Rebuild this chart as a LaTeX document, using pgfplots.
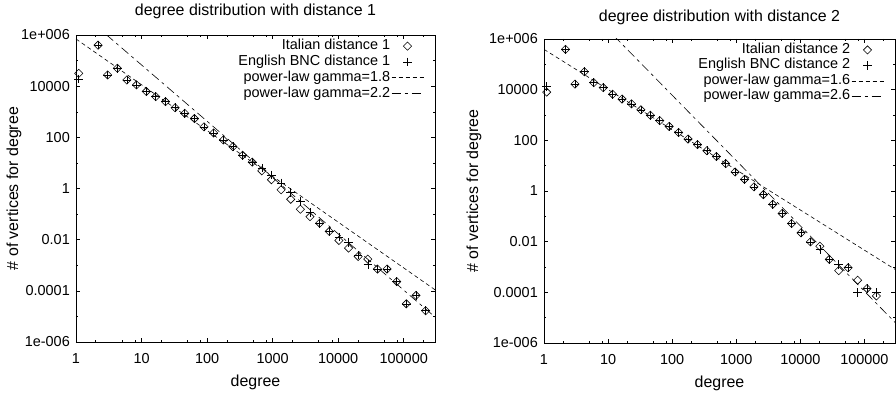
\documentclass[border=0pt]{standalone}
\usepackage{fontspec}
\setmainfont{Liberation Sans}
\usepackage{pgfplots}
\pgfplotsset{compat=1.18}
\newcommand{\fs}{\fontsize{14.5}{16}\selectfont}
\newcommand{\fl}{\fontsize{16}{18}\selectfont}

\pgfplotsset{
  scale only axis,
  xmin=1, xmax=3e5, ymin=1e-6, ymax=1e6,
  xtick={1,10,100,1000,10000,100000},
  xticklabels={1,10,100,1000,10000,100000},
  ytick={1e-6,1e-4,1e-2,1,1e2,1e4,1e6},
  yticklabels={1e-006,0.0001,0.01,1,100,10000,1e+006},
  minor ytick={1e-5,1e-3,1e-1,10,1e3,1e5},
  minor xtick={2,5,8,20,50,80,200,500,800,2000,5000,8000,20000,50000,80000,200000},
  tick align=inside,
  major tick length=4bp, minor tick length=2.5bp,
  every tick/.append style={black, line width=0.5bp},
  axis line style={line width=0.8bp, black},
  legend image code/.code={\draw[mark repeat=2,mark phase=2,#1] plot coordinates {(0bp,0bp) (16bp,0bp) (32bp,0bp)};},
}

\begin{document}
\begin{tikzpicture}
\useasboundingbox (-76bp,-52bp) rectangle (820bp,342bp);

% ---------------- left panel ----------------
\begin{loglogaxis}[at={(0bp,0bp)}, width=359bp, height=307bp,
  title={degree distribution with distance 1},
  xlabel={degree}, ylabel={\# of vertices for degree},
  title style={font=\fl, at={(axis description cs:0.5,1)}, anchor=base, yshift=13.5bp},
  xlabel style={font=\fl, at={(axis description cs:0.5,0)}, anchor=center, yshift=-40bp},
  ylabel style={font=\fl, at={(axis description cs:0,0.5)}, anchor=center, yshift=62bp},
  xticklabel style={font=\fs, /pgf/number format/assume math mode=true, anchor=base, yshift=-21bp},
  yticklabel style={font=\fs, /pgf/number format/assume math mode=true, anchor=east, inner sep=0pt, xshift=-6bp},
  legend style={draw=none, fill=none, at={(rel axis cs:1,1)}, anchor=north east,
    xshift=-11bp, yshift=-3bp, legend cell align=right,
    font=\fs, row sep=0pt, inner sep=0pt,
    nodes={inner sep=1bp, text height=10.5bp, text depth=3.3bp}},
  legend plot pos=right]
\addplot[only marks, mark=square, mark size=2.9bp, mark options={rotate=45, solid, line width=0.6bp, black, fill=none}] coordinates {
(1.10,31600) (2.17,400000) (3.04,27500) (4.27,50000) (5.98,17400) (8.39,11200)
(11.8,6200) (16.5,3900) (23.2,2470) (32.5,1440) (45.6,870) (64.0,540)
(89.7,257) (126,148) (177,79) (248,43) (348,20) (488,10.7) (684,4.9)
(959,2.2) (1346,0.89) (1888,0.38) (2649,0.155) (3715,0.079) (5212,0.044)
(7311,0.021) (10257,0.0093) (14388,0.0047) (20184,0.0022) (28314,0.00174)
(39719,0.00071) (55719,0.00071) (78163,0.00023) (109648,0.000031)
(153815,0.000066) (215774,0.0000166)};
\addlegendentry{Italian distance 1}
\addplot[only marks, mark=+, mark size=4.3bp, mark options={solid, line width=0.6bp, black}] coordinates {
(1.10,19000) (2.17,400000) (3.04,27500) (4.27,50000) (5.98,17400) (8.39,11200)
(11.8,6200) (16.5,3900) (23.2,2470) (32.5,1440) (45.6,870) (64.0,540)
(89.7,257) (126,148) (177,79) (248,43) (348,20) (488,10.7) (684,6.3)
(959,3.4) (1346,1.66) (1888,0.69) (2649,0.31) (3715,0.115) (5212,0.044)
(7311,0.021) (10257,0.0126) (14388,0.0078) (20184,0.0025) (28314,0.00105)
(39719,0.00071) (55719,0.00071) (78163,0.00023) (109648,0.000031)
(153815,0.000066) (215774,0.0000166)};
\addlegendentry{English BNC distance 1}
\addplot[black, line width=0.6bp, dash pattern=on 4bp off 3bp, no marks] coordinates {(1,700000) (300000,0.00011)};
\addlegendentry{power-law gamma=1.8}
\addplot[black, line width=0.6bp, dash pattern=on 9bp off 4bp on 3bp off 4bp, no marks] coordinates {(1,10700000) (300000,0.0000095)};
\addlegendentry{power-law gamma=2.2}
\end{loglogaxis}

% ---------------- right panel ----------------
\begin{loglogaxis}[at={(468bp,-1bp)}, width=351bp, height=304bp,
  title={degree distribution with distance 2},
  xlabel={degree}, ylabel={\# of vertices for degree},
  title style={font=\fl, at={(axis description cs:0.5,1)}, anchor=base, yshift=12bp},
  xlabel style={font=\fl, at={(axis description cs:0.5,0)}, anchor=center, yshift=-40bp},
  ylabel style={font=\fl, at={(axis description cs:0,0.5)}, anchor=center, yshift=70bp},
  xticklabel style={font=\fs, /pgf/number format/assume math mode=true, anchor=base, yshift=-21bp},
  yticklabel style={font=\fs, /pgf/number format/assume math mode=true, anchor=east, inner sep=0pt, xshift=-6bp},
  legend style={draw=none, fill=none, at={(rel axis cs:1,1)}, anchor=north east,
    xshift=-11bp, yshift=-3bp, legend cell align=right,
    font=\fs, row sep=0pt, inner sep=0pt,
    nodes={inner sep=1bp, text height=10.3bp, text depth=3.2bp}},
  legend plot pos=right]
\addplot[only marks, mark=square, mark size=2.9bp, mark options={rotate=45, solid, line width=0.6bp, black, fill=none}] coordinates {
(1.10,8000) (2.17,390000) (3.04,16600) (4.27,51000) (5.98,19000) (8.39,12000)
(11.8,6600) (16.5,4270) (23.2,2750) (32.5,1600) (45.6,980) (64.0,600)
(89.7,355) (126,204) (177,112) (248,68) (348,39) (488,23) (684,12)
(959,5.6) (1346,2.9) (1888,1.45) (2649,0.72) (3715,0.30) (5212,0.13)
(7311,0.052) (10257,0.0224) (14388,0.0098) (20184,0.0066) (28314,0.0020)
(39719,0.00072) (55719,0.00093) (78163,0.00030) (109648,0.000141)
(153815,0.000072)};
\addlegendentry{Italian distance 2}
\addplot[only marks, mark=+, mark size=4.3bp, mark options={solid, line width=0.6bp, black}] coordinates {
(1.10,13000) (2.17,390000) (3.04,16600) (4.27,51000) (5.98,19000) (8.39,12000)
(11.8,6600) (16.5,4270) (23.2,2750) (32.5,1600) (45.6,980) (64.0,600)
(89.7,355) (126,204) (177,112) (248,68) (348,39) (488,23) (684,12)
(959,5.6) (1346,2.9) (1888,1.45) (2649,0.72) (3715,0.30) (5212,0.13)
(7311,0.052) (10257,0.0224) (14388,0.0098) (20184,0.0049) (28314,0.0020)
(39719,0.00126) (55719,0.00093) (78163,0.000098) (109648,0.000141)
(153815,0.000098)};
\addlegendentry{English BNC distance 2}
\addplot[black, line width=0.6bp, dash pattern=on 4bp off 3bp, no marks] coordinates {(1,390000) (300000,0.00081)};
\addlegendentry{power-law gamma=1.6}
\addplot[black, line width=0.6bp, dash pattern=on 9bp off 4bp on 3bp off 4bp, no marks] coordinates {(1,870000000) (300000,0.0000065)};
\addlegendentry{power-law gamma=2.6}
\end{loglogaxis}
\end{tikzpicture}
\end{document}
